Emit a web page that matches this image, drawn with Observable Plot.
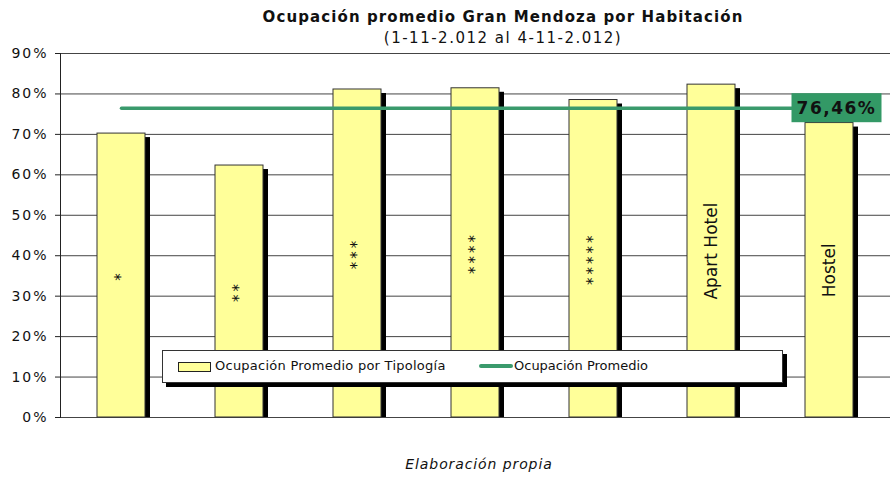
<!DOCTYPE html>
<html><head><meta charset="utf-8">
<script src="https://cdn.jsdelivr.net/npm/d3@7"></script>
<script src="https://cdn.jsdelivr.net/npm/@observablehq/plot@0.6"></script>
<style>
body{margin:0;background:#fff;font-family:"DejaVu Sans",Verdana,sans-serif;}
#wrap{position:relative;width:890px;height:479px;overflow:hidden;background:#fff}
.abs{position:absolute;white-space:nowrap;color:#111}
</style></head><body><div id="wrap"></div>
<script>
const categories = ["*", "**", "***", "****", "*****", "Apart Hotel", "Hostel"];
const occupancy = [0.702, 0.623, 0.811, 0.814, 0.785, 0.823, 0.728];
const average = 0.7646;
const averageLabel = "76,46%";
const yTicks = [0, 0.1, 0.2, 0.3, 0.4, 0.5, 0.6, 0.7, 0.8, 0.9];
const title = "Ocupación promedio Gran Mendoza por Habitación";
const subtitle = "(1-11-2.012 al 4-11-2.012)";
const caption = "Elaboración propia";
const legendLabels = ["Ocupación Promedio por Tipología", "Ocupación Promedio"];

const rows = categories.map((c, i) => ({cat: c, v: occupancy[i], avg: average}));
const BAR = "#ffff99", GREEN = "#3a9a6c";

const plot = Plot.plot({
  width: 890, height: 479,
  marginTop: 53, marginBottom: 62, marginLeft: 60, marginRight: 0,
  style: {fontFamily: '"DejaVu Sans", Verdana, sans-serif', background: "#fff", color: "#111"},
  x: {domain: categories, paddingInner: 0.59, paddingOuter: 0.295, axis: null},
  y: {domain: [0, 0.9], ticks: yTicks, axis: null},
  marks: [
    Plot.gridY(yTicks, {stroke: "#444", strokeOpacity: 1, strokeWidth: 1}),
    Plot.axisY(yTicks, {tickFormat: d => Math.round(d * 100) + "%", tickSize: 5, tickPadding: 7, fontSize: 14, stroke: "#222", textStroke: "none", className: "yax"}),
    Plot.frame({anchor: "left", stroke: "#222"}),
    Plot.barY(rows, {x: "cat", y: "v", fill: "#000", dx: 5, insetTop: 4}),
    Plot.barY(rows, {x: "cat", y: "v", fill: BAR, stroke: "#333", strokeWidth: 1}),
    Plot.text(rows.filter(d => d.cat.startsWith("*")), {x: "cat", y: d => d.v / 2, text: "cat", rotate: -90, fontSize: 15, fill: "#111", className: "stars"}),
    Plot.text(rows.filter(d => !d.cat.startsWith("*")), {x: "cat", y: d => d.v / 2, text: "cat", rotate: -90, fontSize: 17, fill: "#111"}),
    Plot.line(rows, {x: "cat", y: "avg", stroke: GREEN, strokeWidth: 3.5}),
    Plot.text(rows.slice(-1), {x: "cat", y: "avg", text: () => averageLabel, dx: 7, fontSize: 17, fontWeight: "bold", fill: "#111", className: "avg-label"})
  ]
});
plot.querySelectorAll(".yax text").forEach(t => t.setAttribute("letter-spacing", "2"));
plot.querySelectorAll(".stars text").forEach(t => t.setAttribute("letter-spacing", "3"));
plot.querySelectorAll(".avg-label text").forEach(t => t.setAttribute("letter-spacing", "1.5"));
const wrap = document.getElementById("wrap");
wrap.appendChild(plot);
plot.style.position = "absolute"; plot.style.left = "0"; plot.style.top = "0";

// background box for average label
const lab = plot.querySelector(".avg-label text");
if (lab) {
  const bb = lab.getBBox();
  const r = document.createElementNS("http://www.w3.org/2000/svg", "rect");
  const w = 90, h = 29;
  r.setAttribute("x", bb.x + bb.width / 2 - w / 2);
  r.setAttribute("y", bb.y + bb.height / 2 - h / 2);
  r.setAttribute("width", w); r.setAttribute("height", h);
  r.setAttribute("fill", "#339966");
  const tr = lab.getAttribute("transform");
  if (tr) r.setAttribute("transform", tr);
  lab.parentNode.insertBefore(r, lab);
}

function addDiv(text, css) {
  const d = document.createElement("div");
  d.className = "abs"; d.textContent = text; d.style.cssText += css;
  wrap.appendChild(d); return d;
}
addDiv(title, "left:503px;top:8px;transform:translateX(-50%);font-weight:bold;font-size:15px;letter-spacing:1.1px;");
addDiv(subtitle, "left:503px;top:29px;transform:translateX(-50%);font-size:15px;letter-spacing:1.5px;");
addDiv(caption, "left:479px;top:456px;transform:translateX(-50%);font-size:14px;font-style:italic;letter-spacing:0.9px;");

// legend
const leg = document.createElement("div");
leg.style.cssText = "position:absolute;left:162px;top:350px;width:619px;height:31px;background:#fff;border:1px solid #333;box-shadow:4px 4px 0 #000;font-size:13px;";
leg.innerHTML = `<div style="position:absolute;left:15px;top:11px;width:31px;height:8px;background:${BAR};border:1px solid #222"></div>
<div class="abs" style="left:52px;top:7px;letter-spacing:0.25px">${legendLabels[0]}</div>
<div style="position:absolute;left:316px;top:13px;width:34px;height:4px;border-radius:2px;background:${GREEN}"></div>
<div class="abs" style="left:351px;top:7px;">${legendLabels[1]}</div>`;
wrap.appendChild(leg);
</script></body></html>
